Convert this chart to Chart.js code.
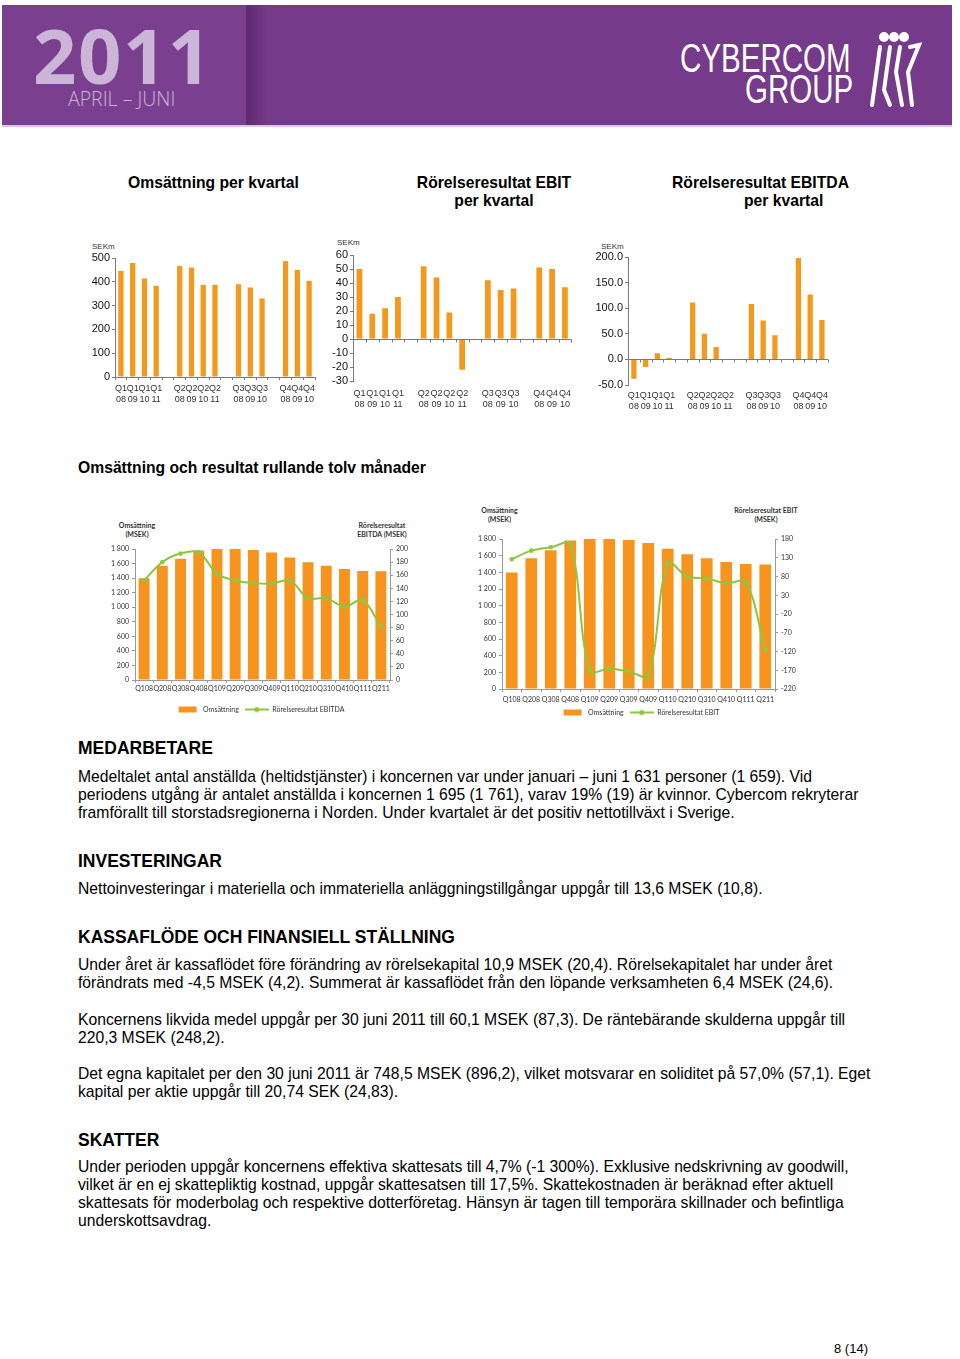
<!DOCTYPE html>
<html><head><meta charset="utf-8">
<script src="https://cdn.jsdelivr.net/npm/chart.js@4.4.0/dist/chart.umd.min.js"></script>
<style>
html,body{margin:0;padding:0;background:#fff}
body{width:960px;height:1359px;position:relative;overflow:hidden;font-family:"Liberation Sans",Arial,sans-serif;color:#000}
.a{position:absolute;white-space:nowrap}
canvas{position:absolute}
.ct{font-weight:bold;font-size:15.7px;line-height:18px}
.h{font-weight:bold;font-size:17.5px;line-height:20px;left:78px}
.p{font-size:15.7px;line-height:18px;left:78px}
.sek{font-size:8px;color:#333}
.at{font-family:Lato,"Open Sans",sans-serif;font-weight:bold;font-size:7px;line-height:9px;text-align:center;color:#333}
.logo{font-family:"Liberation Sans",Arial,sans-serif;font-size:41px;line-height:42px;color:#fff;transform:scaleX(0.72);transform-origin:0 0}
</style></head>
<body>
<!-- header -->
<div class="a" style="left:2px;top:5px;width:950px;height:121px;background:#763a8a"></div>
<div class="a" style="left:2px;top:5px;width:244px;height:121px;background:#7b3f8f"></div>
<div class="a" style="left:246px;top:5px;width:22px;height:121px;background:linear-gradient(to right,#5e2a70,#763a8a)"></div>
<div class="a" style="left:2px;top:125px;width:950px;height:2px;background:#d9c8e2"></div>
<div class="a" style="left:33px;top:12px;font-family:'Open Sans',sans-serif;font-weight:bold;font-size:76px;line-height:86px;color:#cbb6d8;letter-spacing:1.5px">2011</div>
<div class="a" style="left:68px;top:88px;font-family:'Open Sans',sans-serif;font-weight:300;font-size:19.5px;line-height:22px;color:#cbb6d8">APRIL – JUNI</div>
<div class="a logo" style="left:680px;top:37px">CYBERCOM</div>
<div class="a logo" style="left:745px;top:68px">GROUP</div>
<svg class="a" style="left:862px;top:30px" width="60" height="80" viewBox="0 0 60 80">
 <g fill="#fff"><circle cx="22" cy="7" r="5"/><circle cx="32" cy="7" r="5"/><circle cx="42" cy="7" r="5"/></g>
 <g stroke="#fff" stroke-width="4" fill="none" stroke-linecap="round">
  <path d="M18 17 L10 75"/><path d="M28 17 L22 60 L28 75"/><path d="M38 17 L34 42 L40 75"/><path d="M48 17 L57 15 L46 42 L50 75"/>
 </g>
</svg>

<!-- top titles -->
<div class="a ct" style="left:128px;top:174px">Omsättning per kvartal</div>
<div class="a ct" style="left:414px;top:174px;width:160px;text-align:center">Rörelseresultat EBIT<br>per kvartal</div>
<div class="a ct" style="left:672px;top:174px">Rörelseresultat EBITDA</div>
<div class="a ct" style="left:744px;top:192px">per kvartal</div>

<div class="a sek" style="left:92px;top:242px">SEKm</div>
<div class="a sek" style="left:337px;top:238px">SEKm</div>
<div class="a sek" style="left:601px;top:242px">SEKm</div>

<canvas id="c1" width="240" height="170" style="left:80px;top:240px"></canvas>
<canvas id="c2" width="255" height="175" style="left:320px;top:240px"></canvas>
<canvas id="c3" width="250" height="175" style="left:580px;top:240px"></canvas>

<div class="a ct" style="left:78px;top:459px">Omsättning och resultat rullande tolv månader</div>

<div class="a at" style="left:112px;top:521px;width:50px">Omsättning<br>(MSEK)</div>
<div class="a at" style="left:352px;top:521px;width:60px">Rörelseresultat<br>EBITDA (MSEK)</div>
<div class="a at" style="left:472px;top:506px;width:55px">Omsättning<br>(MSEK)</div>
<div class="a at" style="left:730px;top:506px;width:72px">Rörelseresultat EBIT<br>(MSEK)</div>

<canvas id="c4" width="320" height="210" style="left:100px;top:515px"></canvas>
<canvas id="c5" width="340" height="228" style="left:470px;top:500px"></canvas>

<!-- text -->
<div class="a h" style="top:738px">MEDARBETARE</div>
<div class="a p" style="top:768px">Medeltalet antal anställda (heltidstjänster) i koncernen var under januari – juni 1 631 personer (1 659). Vid<br>periodens utgång är antalet anställda i koncernen 1 695 (1 761), varav 19% (19) är kvinnor. Cybercom rekryterar<br>framförallt till storstadsregionerna i Norden. Under kvartalet är det positiv nettotillväxt i Sverige.</div>
<div class="a h" style="top:851px">INVESTERINGAR</div>
<div class="a p" style="top:880px">Nettoinvesteringar i materiella och immateriella anläggningstillgångar uppgår till 13,6 MSEK (10,8).</div>
<div class="a h" style="top:927px">KASSAFLÖDE OCH FINANSIELL STÄLLNING</div>
<div class="a p" style="top:956px">Under året är kassaflödet före förändring av rörelsekapital 10,9 MSEK (20,4). Rörelsekapitalet har under året<br>förändrats med -4,5 MSEK (4,2). Summerat är kassaflödet från den löpande verksamheten 6,4 MSEK (24,6).</div>
<div class="a p" style="top:1011px">Koncernens likvida medel uppgår per 30 juni 2011 till 60,1 MSEK (87,3). De räntebärande skulderna uppgår till<br>220,3 MSEK (248,2).</div>
<div class="a p" style="top:1065px">Det egna kapitalet per den 30 juni 2011 är 748,5 MSEK (896,2), vilket motsvarar en soliditet på 57,0% (57,1). Eget<br>kapital per aktie uppgår till 20,74 SEK (24,83).</div>
<div class="a h" style="top:1130px">SKATTER</div>
<div class="a p" style="top:1158px">Under perioden uppgår koncernens effektiva skattesats till 4,7% (-1 300%). Exklusive nedskrivning av goodwill,<br>vilket är en ej skattepliktig kostnad, uppgår skattesatsen till 17,5%. Skattekostnaden är beräknad efter aktuell<br>skattesats för moderbolag och respektive dotterföretag. Hänsyn är tagen till temporära skillnader och befintliga<br>underskottsavdrag.</div>
<div class="a" style="left:834px;top:1341px;font-size:13px;line-height:16px">8 (14)</div>

<script>
// ---------- DATA ----------
const quarterLabels = ["Q1 08","Q1 09","Q1 10","Q1 11","","Q2 08","Q2 09","Q2 10","Q2 11","","Q3 08","Q3 09","Q3 10","","Q4 08","Q4 09","Q4 10"];
const revenueQ = [446,479,414,383,null,467,460,387,387,null,390,376,330,null,487,450,404];
const ebitQ    = [50,18,22,30,null,52,44,19,-22,null,42,35,36,null,51,50,37];
const ebitdaQ  = [-38,-15,12,3,null,111,50,24,0,null,108,76,47,null,198,127,77];

const rollLabels  = ["Q108","Q208","Q308","Q408","Q109","Q209","Q309","Q409","Q110","Q210","Q310","Q410","Q111","Q211"];
const rollRevenue = [1398,1570,1665,1781,1802,1800,1787,1753,1684,1617,1570,1525,1499,1495];
const rollEbitda  = [152,180,193,195,162,152,148,147,152,125,125,112,122,81];
const rollEbit    = [126,149,158,167,-171,-166,-173,-184,116,80,75,62,65,-117];

const ebitRightTicks = [-220,-170,-120,-70,-20,30,80,130,180];

// ---------- STYLE ----------
const ORANGE = '#f39a1e';
const ORANGE2 = '#f7941d';
const GREEN = '#8dc63f';
const AXIS = '#7a7a7a';
Chart.defaults.animation = false;
Chart.defaults.responsive = false;
Chart.defaults.devicePixelRatio = 1;
Chart.defaults.plugins.tooltip.enabled = false;

const fixW = w => (s => { s.width = w; });
const fixH = h => (s => { s.height = h; });

const zeroLine = {
  id: 'zeroLine',
  afterDatasetsDraw(c) {
    const x = c.scales.x, y = c.scales.y, ctx = c.ctx;
    const y0 = Math.round(y.getPixelForValue(0)) + 0.5;
    const n = x.ticks.length, step = x.width / n;
    ctx.save();
    ctx.strokeStyle = AXIS; ctx.lineWidth = 1;
    ctx.beginPath();
    ctx.moveTo(x.left, y0); ctx.lineTo(x.right, y0);
    for (let i = 0; i <= n; i++) {
      const px = Math.round(x.left + i * step) + 0.5;
      ctx.moveTo(px, y0); ctx.lineTo(px, y0 + 3);
    }
    ctx.stroke(); ctx.restore();
  }
};

function quarterChart(id, data, opts) {
  return new Chart(document.getElementById(id), {
    type: 'bar',
    data: { labels: quarterLabels, datasets: [{ data: data, backgroundColor: ORANGE, barPercentage: 0.45, categoryPercentage: 1 }] },
    options: {
      layout: { padding: { top: opts.padTop, right: opts.padRight || 2, left: 0, bottom: 0 } },
      plugins: { legend: { display: false } },
      scales: {
        x: {
          afterFit: fixH(opts.xh),
          grid: { display: opts.bottomAxis, drawOnChartArea: false, tickLength: 3, color: AXIS },
          border: { display: opts.bottomAxis, color: AXIS },
          ticks: { autoSkip: false, maxRotation: 0, minRotation: 0, padding: opts.xpad, color: '#333',
                   font: { family: 'Liberation Sans', size: 9 },
                   callback: function(v) { const l = quarterLabels[v]; return l ? l.split(' ') : ''; } }
        },
        y: {
          min: opts.min, max: opts.max,
          afterFit: fixW(opts.yw),
          grid: { drawOnChartArea: false, tickLength: 3, color: AXIS },
          border: { color: AXIS },
          ticks: { stepSize: opts.step, autoSkip: false, padding: 2, color: '#111', font: { family: 'Liberation Sans', size: 11 },
                   callback: opts.fmt || (v => v) }
        }
      }
    },
    plugins: opts.zero ? [zeroLine] : []
  });
}

quarterChart('c1', revenueQ, { min: 0, max: 500, step: 100, padTop: 18, yw: 35, xh: 33, xpad: 3, bottomAxis: true, padRight: 5 });
quarterChart('c2', ebitQ, { min: -30, max: 60, step: 10, padTop: 15, yw: 33, xh: 34, xpad: 4, bottomAxis: false, zero: true });
quarterChart('c3', ebitdaQ, { min: -50, max: 200, step: 50, padTop: 17, yw: 48, xh: 30, xpad: 2, bottomAxis: false, zero: true, fmt: v => v.toFixed(1) });

// ---------- rolling charts ----------
function icon(type) {
  const c = document.createElement('canvas');
  c.width = 24; c.height = 8;
  const g = c.getContext('2d');
  if (type === 'bar') { g.fillStyle = ORANGE2; g.fillRect(3, 1, 18, 6); }
  else {
    g.strokeStyle = GREEN; g.lineWidth = 2; g.beginPath(); g.moveTo(0, 4); g.lineTo(24, 4); g.stroke();
    g.fillStyle = GREEN; g.beginPath(); g.arc(12, 4, 2.6, 0, Math.PI * 2); g.fill();
  }
  return c;
}
const barIcon = icon('bar'), lineIcon = icon('line');
const fmtSpace = v => String(v).replace(/\B(?=(\d{3})+(?!\d))/g, ' ');

function rollChart(id, lineLabel, lineData, right, padTop, yw, rw, xh, xpad) {
  return new Chart(document.getElementById(id), {
    data: {
      labels: rollLabels,
      datasets: [
        { type: 'line', label: lineLabel, data: lineData, yAxisID: 'y1', borderColor: GREEN, backgroundColor: GREEN,
          borderWidth: 2, tension: 0.35, pointRadius: 2.3, pointBackgroundColor: GREEN, pointBorderWidth: 0, order: 0 },
        { type: 'bar', label: 'Omsättning', data: rollRevenue, yAxisID: 'y', backgroundColor: ORANGE2, barPercentage: 0.6, categoryPercentage: 1, order: 1 }
      ]
    },
    options: {
      layout: { padding: { top: padTop, left: 0, right: 0, bottom: 2 } },
      plugins: {
        legend: {
          position: 'bottom', reverse: true,
          labels: {
            usePointStyle: true, pointStyleWidth: 24, boxHeight: 8, padding: 6, color: '#333',
            font: { family: 'Lato', size: 7 },
            generateLabels: function(chart) {
              const items = Chart.defaults.plugins.legend.labels.generateLabels(chart);
              items.forEach(it => { it.pointStyle = it.datasetIndex === 1 ? barIcon : lineIcon; });
              return items;
            }
          }
        }
      },
      scales: {
        x: {
          afterFit: fixH(xh),
          grid: { drawOnChartArea: false, tickLength: 3, color: '#999' },
          border: { color: '#999' },
          ticks: { autoSkip: false, maxRotation: 0, padding: xpad, color: '#333', font: { family: 'Lato', size: 7 } }
        },
        y: {
          position: 'left', min: 0, max: 1800,
          afterFit: fixW(yw),
          grid: { drawOnChartArea: false, tickLength: 3, color: '#999' },
          border: { color: '#999' },
          ticks: { stepSize: 200, padding: 3, color: '#333', font: { family: 'Lato', size: 7 }, callback: fmtSpace }
        },
        y1: Object.assign({
          position: 'right',
          afterFit: fixW(rw),
          grid: { drawOnChartArea: false, tickLength: 3, color: '#999' },
          border: { color: '#999' },
          ticks: { padding: 3, color: '#333', font: { family: 'Lato', size: 7 } }
        }, right)
      }
    }
  });
}

rollChart('c4', 'Rörelseresultat EBITDA', rollEbitda,
  { min: 0, max: 200, ticks: { stepSize: 20, padding: 3, color: '#333', font: { family: 'Lato', size: 7 } } },
  34, 35, 30, 20, 2);
rollChart('c5', 'Rörelseresultat EBIT', rollEbit,
  { min: -220, max: 180, afterBuildTicks: s => { s.ticks = ebitRightTicks.map(v => ({ value: v })); } },
  39, 32, 35, 14, 4);
</script>
</body></html>
